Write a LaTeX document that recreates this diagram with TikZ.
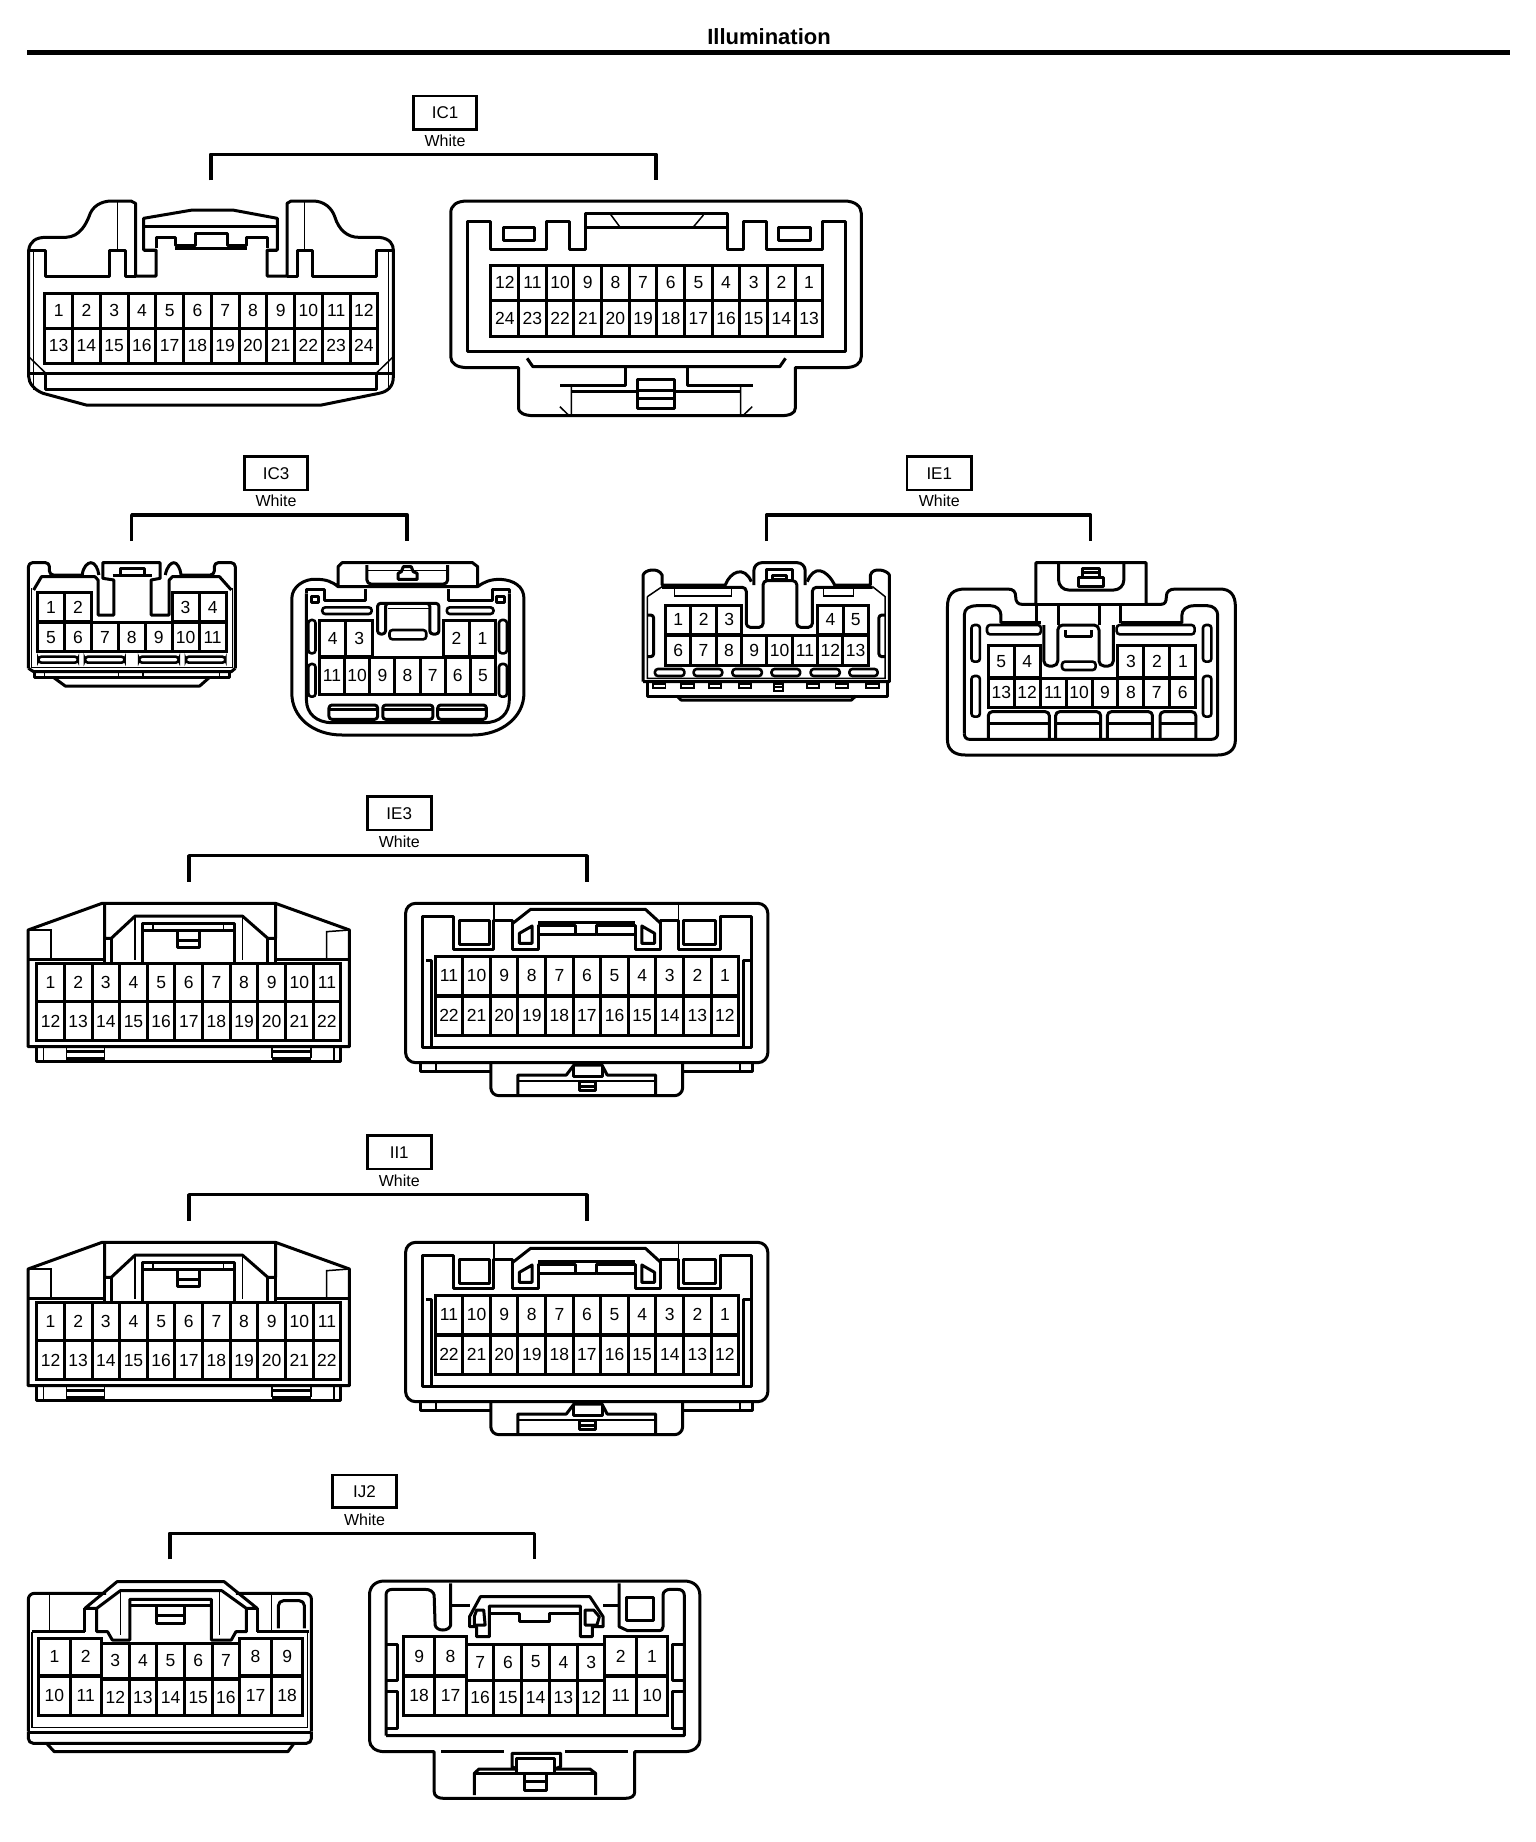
\documentclass[tikz,border=0pt]{standalone}
\usepackage{fontspec}
\setmainfont{Liberation Sans}
\tikzset{
    crop/.style n args={3}{x=#1pt, y=-0.33333pt, xshift=#2pt, yshift=-#3pt, /utils/exec={\def\cropx{#1}}},
    shell/.style={draw, line width=3pt, line join=round},
    fine/.style={draw, line width=1.5pt},
    slot/.style={draw, line width=2.6pt, rounded corners=3pt},
    pincell/.style={draw, line width=3pt, inner sep=0pt, font=\fontsize{17.5}{18}\selectfont},
    tagbox/.style={draw, line width=2.8pt, inner sep=0pt, font=\fontsize{17}{18}\selectfont},
    tagtext/.style={inner sep=0pt, font=\fontsize{16}{17}\selectfont},
    bracket/.style={draw, line width=3.6pt, line join=round}
}
% one row of numbered cavities: prefix, left edge, cell width, top, bottom, labels
\newcommand{\pinrow}[6]{
    \foreach \n [count=\k from 0] in {#6} {
        \node[pincell, minimum width={#3*\cropx*1pt}, minimum height={(#5-#4)/3*1pt}] (#1-\n) at ({#2+(\k+0.5)*#3},{(#4+#5)/2}) {\n};
    }
}
% connector tag with its colour and the bracket below: name, x0, x1, y0, y1, text y, bracket x0, x1, bottom
\newcommand{\conntag}[9]{
    \node[tagbox, minimum width={(#3-#2)*\cropx*1pt}, minimum height={(#5-#4)/3*1pt}] (#1) at ({(#2+#3)/2},{(#4+#5)/2}) {#1};
    \node[tagtext] (#1-color) at ({(#2+#3)/2},#6) {White};
    \coordinate (#1-a) at (#7,#9);
    \coordinate (#1-b) at (#8,#9);
    \bracketto{#1}
}
\newcommand{\bracketto}[1]{\draw[bracket] (#1-a) -- ++(0,-78) -| (#1-b);}
% the two 22 cavity halves are drawn twice
\newcommand{\widefemale}[1]{
    \draw[shell] (55,770) -- (55,420) -- (200,340) -- (540,340) -- (685,420) -- (685,770) -- cycle;
    \draw[fine] (55,420) -- (100,420) -- (100,505);
    \draw[fine] (685,420) -- (640,425) -- (640,505);
    \draw[shell] (55,507) -- (205,507) (540,507) -- (685,507);
    \draw[shell] (205,345) -- (205,445) -- (218,445) -- (265,378) -- (475,378) -- (525,445) -- (540,445) -- (540,345);
    \draw[shell] (205,445) -- (205,520) (218,445) -- (218,520) -- (525,520) -- (525,445) (540,445) -- (540,520);
    \draw[shell] (280,515) -- (280,400) -- (460,400) -- (460,515);
    \draw[shell] (280,420) -- (460,420);
    \draw[fine] (265,378) -- (265,510) (475,378) -- (475,510) (300,400) -- (300,420) (438,400) -- (438,420);
    \draw[shell] (347,425) -- (347,472) -- (392,472) -- (392,425) (347,450) -- (392,450);
    \pinrow{#1}{72}{54.18}{520}{635}{1,2,3,4,5,6,7,8,9,10,11}
    \pinrow{#1}{72}{54.18}{635}{752}{12,13,14,15,16,17,18,19,20,21,22}
    \draw[shell] (72,770) -- (72,815) -- (668,815) -- (668,770);
    \draw[fine] (85,770) -- (85,815) (655,770) -- (655,815);
    \draw[fine] (130,770) -- (130,805) (205,770) -- (205,805) (533,770) -- (533,805) (610,770) -- (610,805);
    \draw[shell] (130,785) -- (205,785) (130,805) -- (205,805) (533,785) -- (610,785) (533,805) -- (610,805);
}
\newcommand{\widemale}[1]{
    \draw[shell, rounded corners=10pt] (795,579) -- (795,340) -- (1505,340) -- (1505,818) -- (795,818) -- cycle;
    \draw[shell] (828,772) -- (828,380) -- (888,380) -- (888,478) -- (968,478) -- (968,392) -- (1005,392) -- (1005,478) -- (1055,478) -- (1055,433) -- (1170,433) -- (1170,405) -- (1245,405) -- (1245,478) -- (1295,478) -- (1295,392) -- (1330,392) -- (1330,478) -- (1412,478) -- (1412,380) -- (1473,380) -- (1473,772) -- cycle;
    \draw[shell] (1055,433) -- (1128,433) -- (1128,405) -- (1055,405) -- cycle;
    \draw[fine] (968,345) -- (968,392) (1330,345) -- (1330,392);
    \draw[shell] (1005,400) -- (1040,358) -- (1265,358) -- (1295,400);
    \draw[shell] (1055,398) -- (1245,398) (1170,433) -- (1245,433);
    \draw[shell] (900,392) rectangle (960,462) (1340,392) rectangle (1403,462);
    \draw[shell] (1018,430) -- (1043,408) -- (1043,460) -- (1018,460) -- cycle;
    \draw[shell] (1258,408) -- (1283,430) -- (1283,460) -- (1258,460) -- cycle;
    \pinrow{#1}{853}{54.09}{500}{615}{11,10,9,8,7,6,5,4,3,2,1}
    \pinrow{#1}{853}{54.09}{618}{735}{22,21,20,19,18,17,16,15,14,13,12}
    \draw[shell] (835,510) -- (845,510) -- (845,772) (1473,510) -- (1458,510) -- (1458,772);
    \draw[shell] (825,818) -- (825,845) -- (962,845) (1475,818) -- (1475,845) -- (1338,845);
    \draw[fine] (855,822) -- (855,842) (1450,822) -- (1450,842);
    \draw[shell, rounded corners=8pt] (962,820) -- (962,917) -- (1338,917) -- (1338,820);
    \draw[shell] (1015,912) -- (1015,855) -- (1110,855) -- (1125,825) -- (1180,825) -- (1190,855) -- (1285,855) -- (1285,912);
    \draw[fine] (1015,873) -- (1285,873);
    \draw[shell] (1125,825) -- (1125,860) -- (1180,860) -- (1180,825);
    \draw[shell] (1135,875) rectangle (1168,900) (1135,888) -- (1168,888);
}

\begin{document}
\begin{tikzpicture}[x=1pt, y=-1pt]
    \useasboundingbox (0,0) rectangle (1536,1842);
    \node[inner sep=0pt, font=\fontsize{22}{24}\selectfont\bfseries] (title) at (769,37) {Illumination};
    \coordinate (ruleL) at (27,52.5);
    \coordinate (ruleR) at (1510,52.5);
    \draw[line width=4.6pt] (ruleL) -- (ruleR);

    % IC1
    \begin{scope}[crop={0.5742}{0}{0}]
        \conntag{IC1}{720}{830}{288}{388}{421}{367}{1142}{541}
        \draw[shell] (50,1130) -- (50,750) .. controls (52,725) and (62,712) .. (80,712) -- (115,712) .. controls (140,710) and (150,670) .. (155,650) .. controls (160,620) and (175,603) .. (195,603) -- (228,603) -- (236,610) -- (236,828) -- (272,828) -- (272,750) -- (250,750) -- (250,655) -- (335,630) -- (405,630) -- (483,655) -- (483,750) -- (465,750) -- (465,828) -- (500,828) -- (500,610) -- (507,603) -- (545,603) .. controls (565,603) and (578,625) .. (583,650) .. controls (590,690) and (605,712) .. (625,712) -- (660,712) .. controls (680,715) and (685,735) .. (685,750) -- (685,1130) .. controls (685,1160) and (675,1175) .. (660,1180) -- (560,1215) -- (150,1215) -- (75,1180) .. controls (60,1170) and (50,1150) .. (50,1130) -- cycle;
        \draw[shell] (50,750) -- (80,750) -- (80,828) -- (190,828) -- (190,750) -- (218,750) -- (218,828) -- (236,828);
        \draw[shell] (500,828) -- (518,828) -- (518,750) -- (545,750) -- (545,828) -- (655,828) -- (655,750) -- (685,750);
        \draw[fine] (205,603) -- (205,750) (530,603) -- (530,750) (58,750) -- (58,1170) (677,750) -- (677,1170);
        \draw[shell] (250,680) -- (483,680) (250,750) -- (272,750) (465,750) -- (483,750);
        \draw[shell] (272,745) -- (272,712) -- (305,712) -- (305,735) -- (340,735) -- (340,700) -- (397,700) -- (397,735) -- (430,735) -- (430,712) -- (465,712) -- (465,745);
        \draw[shell] (305,745) -- (430,745);
        \pinrow{ic1l}{78}{48.33}{880}{985}{1,2,3,4,5,6,7,8,9,10,11,12}
        \pinrow{ic1l}{78}{48.33}{985}{1090}{13,14,15,16,17,18,19,20,21,22,23,24}
        \draw[shell] (50,1120) -- (685,1120);
        \draw[shell] (80,1120) -- (80,1168) -- (655,1168) -- (655,1120);
        \draw[fine] (50,1070) -- (80,1120) (685,1070) -- (655,1120);

        \draw[shell] (785,640) .. controls (785,615) and (795,603) .. (815,603) -- (1470,603) .. controls (1490,603) and (1500,620) .. (1500,640) -- (1500,1070) .. controls (1500,1090) and (1490,1103) .. (1470,1103) -- (1385,1103) -- (1385,1225) .. controls (1385,1240) and (1375,1247) .. (1360,1247) -- (930,1247) .. controls (910,1247) and (903,1235) .. (903,1225) -- (903,1103) -- (815,1103) .. controls (795,1103) and (785,1090) .. (785,1070) -- cycle;
        \draw[shell] (815,1055) -- (815,665) -- (855,665) -- (855,748) -- (952,748) -- (952,665) -- (992,665) -- (992,748) -- (1020,748) -- (1020,640) -- (1267,640) -- (1267,748) -- (1295,748) -- (1295,665) -- (1335,665) -- (1335,748) -- (1433,748) -- (1433,665) -- (1473,665) -- (1473,1055) -- cycle;
        \draw[shell] (876,682) rectangle (930,722) (1355,682) rectangle (1412,722);
        \draw[shell] (1020,682) -- (1267,682);
        \draw[fine] (1062,640) -- (1080,682) (1225,645) -- (1207,682);
        \pinrow{ic1r}{855}{48.17}{795}{900}{12,11,10,9,8,7,6,5,4,3,2,1}
        \pinrow{ic1r}{855}{48.17}{900}{1010}{24,23,22,21,20,19,18,17,16,15,14,13}
        \draw[shell] (918,1075) -- (928,1100) -- (1358,1100) -- (1368,1075);
        \draw[shell] (1090,1100) -- (1090,1155) -- (975,1155) (1197,1100) -- (1197,1155) -- (1312,1155);
        \draw[fine] (995,1160) -- (995,1247) (1290,1160) -- (1290,1247) (975,1220) -- (990,1245) (1310,1220) -- (1295,1245);
        \draw[shell] (995,1175) -- (1110,1175) (1175,1175) -- (1290,1175);
        \draw[shell] (1110,1137) rectangle (1175,1225) (1110,1195) -- (1175,1195) (1110,1170) -- (1175,1170);
    \end{scope}

    % IC3
    \begin{scope}[crop={0.39541}{0}{440}]
        \conntag{IC3}{618}{778}{50}{150}{183}{333}{1030}{303}
        \draw[shell, rounded corners=4pt] (72,685) -- (72,368) -- (125,368) -- (125,405) -- (208,405);
        \draw[shell, rounded corners=4pt] (595,685) -- (595,368) -- (542,368) -- (542,405) -- (458,405);
        \draw[shell] (208,405) .. controls (210,380) and (222,368) .. (230,368) .. controls (240,368) and (248,385) .. (250,405);
        \draw[shell] (418,405) .. controls (422,380) and (432,368) .. (440,368) .. controls (448,368) and (456,385) .. (458,405);
        \draw[shell] (85,450) -- (105,410) -- (240,410) -- (248,420) -- (248,525) -- (288,525) -- (288,420) -- (260,415) -- (260,368) -- (405,368) -- (405,415) -- (382,420) -- (382,525) -- (428,525) -- (428,420) -- (436,410) -- (555,410) -- (585,450);
        \draw[shell] (285,405) -- (385,405) (305,405) -- (305,385) -- (365,385) -- (365,405);
        \draw[fine] (80,445) -- (80,682) -- (588,682) -- (588,445);
        \pinrow{ic3l}{95}{68.3}{458}{545}{1,2}
        \pinrow{ic3l}{435}{68.5}{458}{545}{3,4}
        \pinrow{ic3l}{95}{68.1}{548}{635}{5,6,7,8,9,10,11}
        \draw[slot] (97,650) rectangle (197,668) (215,650) rectangle (315,668) (352,650) rectangle (452,668) (470,650) rectangle (570,668);
        \draw[shell] (72,685) -- (85,695) -- (585,695) -- (595,685);
        \draw[shell] (88,695) -- (88,712) -- (580,712) -- (580,695);
        \draw[fine] (112,695) -- (112,712) (300,695) -- (300,712) (362,695) -- (362,712) (555,695) -- (555,712);
        \draw[shell] (135,712) -- (165,738) -- (505,738) -- (530,712);

        \draw[shell] (855,440) -- (855,380) -- (865,368) -- (1195,368) -- (1208,380) -- (1208,440) .. controls (1225,425) and (1240,418) .. (1265,418) .. controls (1300,420) and (1325,440) .. (1325,475) -- (1325,760) .. controls (1325,830) and (1270,885) .. (1195,885) -- (865,885) .. controls (790,885) and (738,830) .. (738,760) -- (738,475) .. controls (738,440) and (770,415) .. (800,418) .. controls (825,418) and (840,425) .. (855,440) -- (1208,440);
        \draw[shell] (775,460) -- (775,780) .. controls (775,820) and (800,848) .. (840,848) -- (1225,848) .. controls (1265,848) and (1288,820) .. (1288,780) -- (1288,460);
        \draw[shell] (775,460) -- (775,447) -- (820,447) -- (820,480) -- (925,480) -- (925,448) (1135,448) -- (1135,480) -- (1245,480) -- (1245,447) -- (1288,447) -- (1288,460);
        \draw[shell] (787,468) rectangle (806,488) (1256,468) rectangle (1275,488);
        \draw[shell, rounded corners=4pt] (928,375) -- (928,432) -- (1132,432) -- (1132,375);
        \draw[fine] (928,392) -- (1132,392);
        \draw[shell] (1007,418) -- (1007,400) -- (1015,395) -- (1020,380) -- (1040,380) -- (1045,395) -- (1055,400) -- (1055,418) -- cycle;
        \draw[slot] (815,502) rectangle (940,522) (1130,502) rectangle (1248,522);
        \draw[shell, rounded corners=3pt] (955,490) -- (955,582) -- (975,582) -- (975,490) -- (1087,490) -- (1087,582) -- (1110,582) -- (1110,490) -- cycle;
        \draw[fine] (980,505) -- (1085,505);
        \draw[slot] (985,570) rectangle (1078,598);
        \draw[slot] (780,540) rectangle (798,640) (1262,540) rectangle (1282,640) (780,672) rectangle (798,770) (1262,672) rectangle (1282,770);
        \pinrow{ic3r}{808}{67}{540}{650}{4,3}
        \pinrow{ic3r}{1122}{65.5}{540}{650}{2,1}
        \pinrow{ic3r}{808}{63.6}{652}{762}{11,10,9,8,7,6,5}
        \foreach \xa/\xb in {832/955, 968/1095, 1107/1230} {
            \draw[shell, rounded corners=3pt] (\xa,838) -- (\xa,795) -- (\xb,795) -- (\xb,838) -- cycle;
            \draw[shell] (\xa,808) -- (\xb,808);
        }
    \end{scope}

    % IE1
    \begin{scope}[crop={0.42092}{620}{440}]
        \conntag{IE1}{682}{835}{50}{150}{183}{348}{1118}{303}
        \draw[shell] (55,725) -- (55,405) .. controls (58,390) and (90,380) .. (100,405) -- (100,435) -- (250,435) .. controls (262,395) and (295,375) .. (312,425);
        \draw[shell, rounded corners=8pt] (318,435) -- (318,368) -- (440,368) -- (440,435);
        \draw[shell] (445,425) .. controls (460,375) and (490,385) .. (510,435) -- (595,435) -- (595,405) .. controls (600,380) and (635,390) .. (640,405) -- (640,725) -- (55,725);
        \draw[fine] (65,470) -- (100,440) (600,440) -- (630,470) -- (630,715) -- (65,715) -- (65,470);
        \draw[shell, rounded corners=4pt] (100,442) -- (300,442) -- (300,562) -- (340,562) -- (340,422) -- (420,422) -- (420,562) -- (457,562) -- (457,442) -- (600,442);
        \draw[shell] (348,388) rectangle (410,420) (362,405) rectangle (395,418);
        \draw[fine] (130,445) rectangle (265,468) (483,445) rectangle (555,468);
        \draw[shell, rounded corners=3pt] (65,525) -- (80,525) -- (80,650) -- (65,650) (630,525) -- (615,525) -- (615,650) -- (630,650);
        \pinrow{ie1l}{108}{60.6}{495}{583}{1,2,3}
        \pinrow{ie1l}{470}{60}{495}{583}{4,5}
        \pinrow{ie1l}{108}{60.25}{585}{675}{6,7,8,9,10,11,12,13}
        \draw[slot] (83,687) rectangle (153,708) (175,687) rectangle (243,708) (267,687) rectangle (337,708) (360,687) rectangle (428,708) (453,687) rectangle (522,708) (545,687) rectangle (612,708);
        \draw[shell] (65,725) -- (65,768) -- (635,768) -- (635,725);
        \foreach \xa/\xb in {78/108, 145/175, 212/240, 282/312, 445/472, 512/542, 585/615} {
            \draw[line width=1.8pt] (\xa,733) rectangle (\xb,745);
        }
        \draw[line width=1.8pt] (365,733) rectangle (388,752) (365,742) -- (388,742);
        \draw[shell] (135,768) -- (145,780) -- (550,780) -- (560,768);

        \draw[shell] (778,500) .. controls (778,465) and (790,447) .. (820,447) -- (920,447) .. controls (935,447) and (940,455) .. (940,470) .. controls (940,485) and (945,493) .. (955,493) -- (988,493) -- (988,368) -- (1250,368) -- (1250,493) -- (1285,493) .. controls (1295,493) and (1298,485) .. (1298,470) .. controls (1298,455) and (1305,447) .. (1320,447) -- (1425,447) .. controls (1450,447) and (1462,465) .. (1462,500) -- (1462,900) .. controls (1462,930) and (1445,945) .. (1420,945) -- (820,945) .. controls (795,945) and (778,930) .. (778,900) -- cycle;
        \draw[shell] (988,493) -- (1250,493);
        \draw[shell] (818,880) -- (818,525) .. controls (818,505) and (830,497) .. (850,497) -- (880,497) .. controls (895,497) and (905,510) .. (905,525) -- (905,548) -- (1000,548);
        \draw[shell] (1190,548) -- (1335,548) -- (1335,525) .. controls (1335,510) and (1345,497) .. (1365,497) -- (1395,497) .. controls (1410,497) and (1420,510) .. (1420,525) -- (1420,880) .. controls (1420,890) and (1415,898) .. (1405,898) -- (830,898) .. controls (822,898) and (818,890) .. (818,880);
        \draw[shell, rounded corners=10pt] (1042,368) -- (1042,450) -- (1197,450) -- (1197,368);
        \draw[shell] (1090,412) rectangle (1148,438) (1098,385) rectangle (1140,412) (1098,398) -- (1140,398);
        \draw[shell] (990,495) -- (990,555) (1042,495) -- (1042,555) (1140,495) -- (1140,555) (1190,495) -- (1190,548);
        \draw[shell, rounded corners=5pt] (1007,555) -- (1007,678) -- (1040,678) -- (1040,555) -- (1138,555) -- (1138,678) -- (1172,678) -- (1172,555);
        \draw[shell] (1058,570) -- (1058,588) -- (1120,588) -- (1120,570);
        \draw[slot] (1050,665) rectangle (1130,690);
        \draw[slot] (872,555) rectangle (1000,583) (1180,555) rectangle (1365,583);
        \draw[slot] (835,555) rectangle (855,665) (1385,555) rectangle (1405,665) (835,708) rectangle (855,830) (1385,708) rectangle (1405,830);
        \pinrow{ie1r}{875}{61.5}{615}{712}{5,4}
        \pinrow{ie1r}{1183}{61.7}{615}{712}{3,2,1}
        \pinrow{ie1r}{875}{61.6}{714}{803}{13,12,11,10,9,8,7,6}
        \foreach \xa/\xb in {875/1020, 1035/1142, 1158/1265, 1283/1368} {
            \draw[shell, rounded corners=4pt] (\xa,897) -- (\xa,815) -- (\xb,815) -- (\xb,897);
            \draw[shell] (\xa,850) -- (\xb,850);
        }
    \end{scope}

    % IE3
    \begin{scope}[crop={0.51020}{0}{790}]
        \conntag{IE3}{720}{845}{20}{120}{155}{370}{1150}{275}
        \widefemale{ie3l}
        \widemale{ie3r}
    \end{scope}

    % II1
    \begin{scope}[crop={0.51020}{0}{1129}]
        \conntag{II1}{720}{845}{20}{120}{155}{370}{1150}{275}
        \widefemale{ii1l}
        \widemale{ii1r}
    \end{scope}

    % IJ2
    \begin{scope}[crop={0.47191}{0}{1470}]
        \conntag{IJ2}{705}{840}{15}{113}{150}{360}{1133}{268}
        \draw[shell, rounded corners=6pt] (60,785) -- (60,370) -- (225,370);
        \draw[shell, rounded corners=6pt] (500,370) -- (660,370) -- (660,785);
        \draw[shell] (180,415) -- (248,335) -- (475,335) -- (545,415) -- (522,415) -- (470,362) -- (255,362) -- (205,415) -- cycle;
        \draw[shell] (180,415) -- (180,485) (545,415) -- (545,485);
        \draw[shell] (205,415) -- (205,485) -- (228,485) -- (238,510) -- (275,510) -- (275,388) -- (448,388) -- (448,510) -- (490,510) -- (500,485) -- (522,485) -- (522,415);
        \draw[shell] (275,405) -- (448,405);
        \draw[shell] (332,405) -- (332,460) -- (390,460) -- (390,405) (332,435) -- (390,435);
        \draw[fine] (255,362) -- (255,495) (465,362) -- (465,495) (105,370) -- (105,480) (575,370) -- (575,480);
        \draw[shell] (68,485) -- (180,485) (545,485) -- (655,485);
        \draw[shell, rounded corners=5pt] (590,475) -- (590,392) -- (645,392) -- (645,475);
        \draw[fine] (68,485) -- (68,772) -- (652,772) -- (652,485);
        \pinrow{ij2l}{82}{66.5}{505}{615}{1,2}
        \pinrow{ij2l}{82}{66.5}{620}{735}{10,11}
        \pinrow{ij2l}{215}{58.6}{520}{625}{3,4,5,6,7}
        \pinrow{ij2l}{215}{58.6}{628}{735}{12,13,14,15,16}
        \pinrow{ij2l}{508}{67}{505}{615}{8,9}
        \pinrow{ij2l}{508}{67}{620}{735}{17,18}
        \draw[shell] (60,786) -- (660,786);
        \draw[shell, rounded corners=5pt] (60,786) -- (60,820) -- (660,820) -- (660,786);
        \draw[shell] (100,822) -- (115,845) -- (610,845) -- (622,822);

        \draw[shell] (783,375) .. controls (783,350) and (795,333) .. (815,333) -- (1450,333) .. controls (1470,333) and (1483,350) .. (1483,375) -- (1483,810) .. controls (1483,830) and (1470,845) .. (1450,845) -- (1345,845) -- (1345,965) .. controls (1345,978) and (1338,985) .. (1325,985) -- (940,985) .. controls (928,985) and (920,978) .. (920,965) -- (920,845) -- (815,845) .. controls (795,845) and (783,830) .. (783,810) -- cycle;
        \draw[shell] (818,797) -- (818,375) .. controls (818,365) and (822,358) .. (832,358) -- (900,358) .. controls (912,358) and (918,365) .. (920,375) -- (922,465) .. controls (925,485) and (952,485) .. (955,465) -- (955,340);
        \draw[shell] (955,405) -- (995,405);
        \draw[shell] (995,470) -- (995,440) -- (1018,380) -- (1250,380) -- (1278,440) -- (1278,470) -- (1255,470) -- (1255,500) -- (1230,500) -- (1230,408) -- (1037,408) -- (1037,500) -- (1010,500) -- (1010,470) -- cycle;
        \draw[shell] (1037,430) -- (1100,430) -- (1100,455) -- (1165,455) -- (1165,430) -- (1230,430);
        \draw[shell] (1010,420) -- (1025,420) -- (1028,465) -- (1005,465) -- (1005,440) -- cycle;
        \draw[shell] (1240,420) -- (1258,420) -- (1270,440) -- (1265,465) -- (1240,465) -- cycle;
        \draw[shell] (1278,405) -- (1312,405);
        \draw[shell] (1312,340) -- (1312,470) -- (1330,482) -- (1395,482) .. controls (1402,482) and (1405,478) .. (1405,470) -- (1405,375) .. controls (1405,365) and (1412,358) .. (1420,358) -- (1435,358) .. controls (1445,358) and (1450,365) .. (1450,375) -- (1450,797) -- (818,797);
        \draw[shell] (1328,382) rectangle (1385,450);
        \draw[shell] (818,522) -- (842,522) -- (842,630) -- (818,630) (818,665) -- (842,665) -- (842,775) -- (818,775);
        \draw[shell] (1450,522) -- (1425,522) -- (1425,630) -- (1450,630) (1450,665) -- (1425,665) -- (1425,775) -- (1450,775);
        \pinrow{ij2r}{855}{66.5}{500}{617}{9,8}
        \pinrow{ij2r}{855}{66.5}{620}{735}{18,17}
        \pinrow{ij2r}{988}{58.8}{522}{630}{7,6,5,4,3}
        \pinrow{ij2r}{988}{58.8}{632}{735}{16,15,14,13,12}
        \pinrow{ij2r}{1282}{66.5}{500}{617}{2,1}
        \pinrow{ij2r}{1282}{66.5}{620}{735}{11,10}
        \draw[shell] (935,843) -- (1068,843) (1198,843) -- (1330,843);
        \draw[shell] (1005,975) -- (1005,910) -- (1015,897) -- (1095,897) -- (1085,890) -- (1085,850) -- (1188,850) -- (1188,890) -- (1175,897) -- (1250,897) -- (1262,910) -- (1262,975);
        \draw[shell] (1095,865) rectangle (1175,910) (1005,910) -- (1262,910);
        \draw[shell] (1112,910) -- (1112,962) -- (1157,962) -- (1157,910) (1112,935) -- (1157,935);
    \end{scope}
\end{tikzpicture}
\end{document}
